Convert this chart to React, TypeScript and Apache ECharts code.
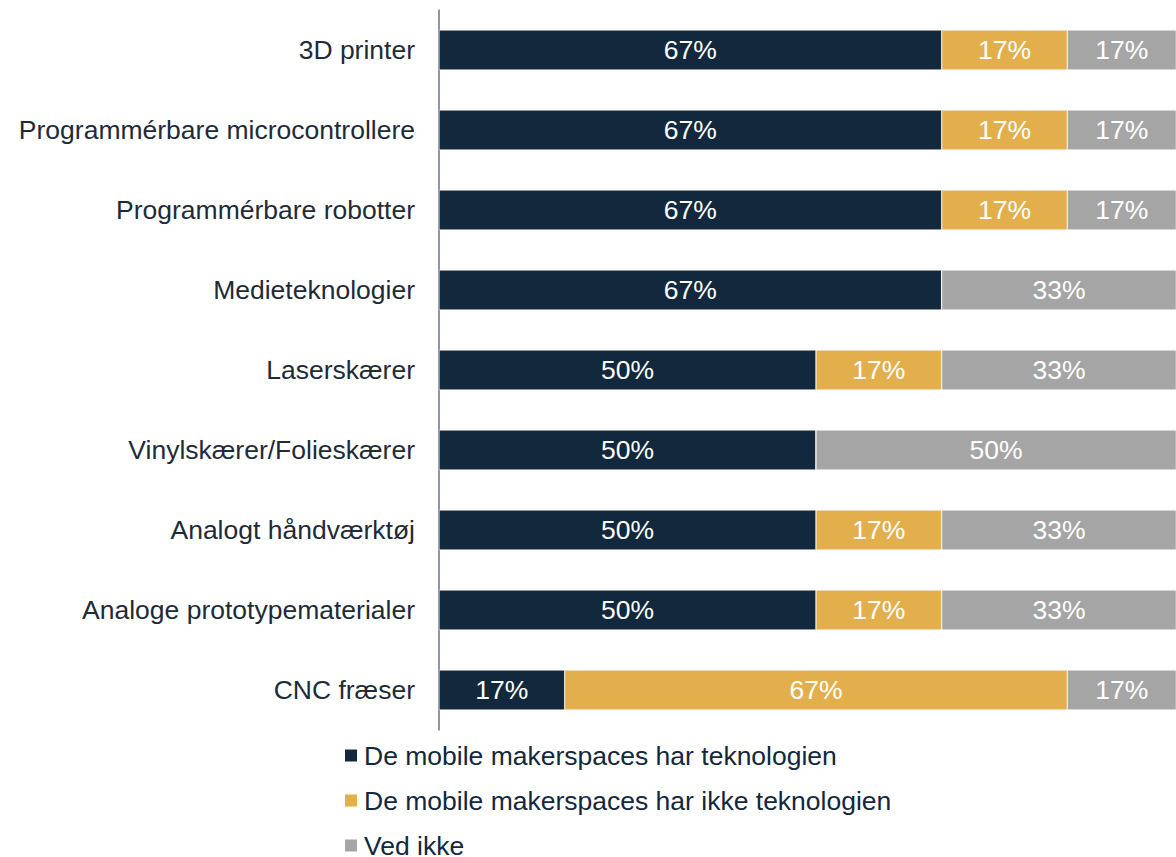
import React, { useEffect, useRef } from "react";
import * as echarts from "echarts";

const categories = [
  "3D printer",
  "Programmérbare microcontrollere",
  "Programmérbare robotter",
  "Medieteknologier",
  "Laserskærer",
  "Vinylskærer/Folieskærer",
  "Analogt håndværktøj",
  "Analoge prototypematerialer",
  "CNC fræser",
];
const harTeknologien = [66.67, 66.67, 66.67, 66.67, 50, 50, 50, 50, 16.67];
const harIkkeTeknologien = [16.67, 16.67, 16.67, 0, 16.67, 0, 16.67, 16.67, 66.67];
const vedIkke = [16.67, 16.67, 16.67, 33.33, 33.33, 50, 33.33, 33.33, 16.67];
const seriesNames = [
  "De mobile makerspaces har teknologien",
  "De mobile makerspaces har ikke teknologien",
  "Ved ikke",
];
const colors = ["#12283C", "#E3AF4D", "#A5A5A5"];

export default function App() {
  const ref = useRef<HTMLDivElement>(null);
  useEffect(() => {
    document.body.style.margin = "0";
    const chart = echarts.init(ref.current!, null, { renderer: "svg" });
    const font = "Liberation Sans, Arial, sans-serif";
    const mk = (name: string, data: number[], color: string) => ({
      name,
      type: "bar",
      stack: "total",
      data,
      barWidth: 40,
      itemStyle: { color, borderColor: "#ffffff", borderWidth: 0.5 },
      label: {
        show: true,
        position: "inside",
        color: "#ffffff",
        fontSize: 26.5,
        fontFamily: font,
        formatter: (p: any) => (p.value > 0 ? Math.round(p.value) + "%" : ""),
      },
    });
    chart.setOption({
      animation: false,
      color: colors,
      grid: { left: 439, right: 0, top: 10, bottom: 127 },
      xAxis: {
        type: "value",
        min: 0,
        max: 97.75,
        show: false,
      },
      yAxis: {
        type: "category",
        data: categories,
        inverse: true,
        axisLine: { show: true, lineStyle: { color: "#6B7580", width: 1.5 } },
        axisTick: { show: false },
        axisLabel: {
          color: "#1E2B38",
          fontSize: 26.5,
          fontFamily: font,
          margin: 24,
        },
      },
      legend: {
        orient: "vertical",
        left: 338,
        top: 737,
        height: 200,
        itemWidth: 14,
        itemHeight: 14,
        itemGap: 18,
        icon: "rect",
        textStyle: { color: "#12283C", fontSize: 26.5, fontFamily: font, padding: [0, 0, 0, 1] },
        data: seriesNames,
      },
      series: [
        mk(seriesNames[0], harTeknologien, colors[0]),
        mk(seriesNames[1], harIkkeTeknologien, colors[1]),
        mk(seriesNames[2], vedIkke, colors[2]),
      ],
    });
    return () => chart.dispose();
  }, []);
  return <div ref={ref} style={{ width: 1176, height: 857 }} />;
}
